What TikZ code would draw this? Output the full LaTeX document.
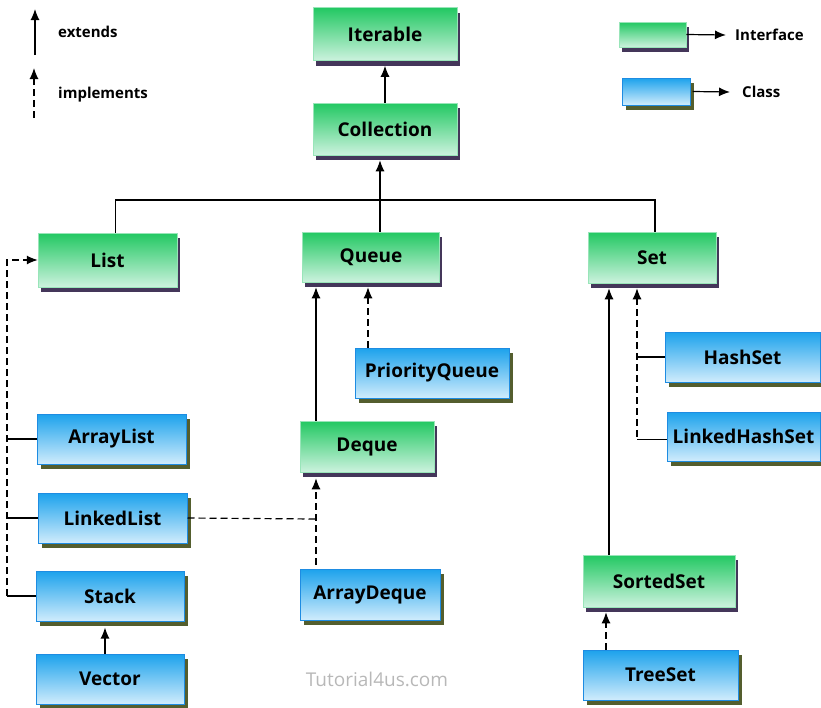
\documentclass[tikz,border=0pt]{standalone}
\usepackage{fontspec}
\setmainfont{Open Sans}
\usepackage{tikz}
\usetikzlibrary{positioning,shadows,arrows.meta}
\definecolor{ifgreen}{RGB}{34,200,98}
\definecolor{iflight}{RGB}{204,242,222}
\definecolor{ifshade}{RGB}{68,54,90}
\definecolor{clblue}{RGB}{28,162,236}
\definecolor{cllight}{RGB}{208,236,252}
\definecolor{clborder}{RGB}{30,140,226}
\definecolor{clshade}{RGB}{84,94,46}

\begin{document}
\begin{tikzpicture}[x=1pt,y=-1pt,
  box/.style={inner sep=0pt,font=\fontsize{19}{22}\selectfont\bfseries},
  iface/.style={box,top color=ifgreen,bottom color=iflight,draw=iflight!70!ifgreen,line width=0.5pt,
    drop shadow={shadow xshift=2.5pt,shadow yshift=-5pt,fill=ifshade,opacity=1}},
  klass/.style={box,top color=clblue,bottom color=cllight,draw=clborder,line width=1pt,
    drop shadow={shadow xshift=4pt,shadow yshift=-5pt,fill=clshade,opacity=1}},
  ext/.style={line width=1.2pt,-{Latex[length=11pt,width=9pt]}},
  impl/.style={ext,dash pattern=on 7pt off 4pt},
  legend/.style={font=\fontsize{15}{18}\selectfont\bfseries,anchor=west,inner sep=0pt}]
\useasboundingbox (0,0) rectangle (821,707);

% interfaces
\node[iface,minimum width=144pt,minimum height=53pt] (iterable) at (385,34) {Iterable};
\node[iface,minimum width=144pt,minimum height=52pt] (collection) at (385,129) {Collection};
\node[iface,minimum width=139pt,minimum height=54pt] (list) at (107.5,260) {List};
\node[iface,minimum width=137pt,minimum height=50pt] (queue) at (371,257) {Queue};
\node[iface,minimum width=128pt,minimum height=51pt] (set) at (652,257.5) {Set};
\node[iface,minimum width=134pt,minimum height=51pt] (deque) at (367,446.5) {Deque};
\node[iface,minimum width=152pt,minimum height=52pt] (sortedset) at (659,581) {SortedSet};

% classes
\node[klass,minimum width=154pt,minimum height=50pt] (priorityqueue) at (432,373) {PriorityQueue};
\node[klass,minimum width=149pt,minimum height=50pt] (arraylist) at (111.5,439) {ArrayList};
\node[klass,minimum width=149pt,minimum height=50pt] (linkedlist) at (112.5,518) {LinkedList};
\node[klass,minimum width=148pt,minimum height=50pt] (stack) at (110,596) {Stack};
\node[klass,minimum width=148pt,minimum height=50pt] (vector) at (110,679) {Vector};
\node[klass,minimum width=140pt,minimum height=51pt] (arraydeque) at (370,594.5) {ArrayDeque};
\node[klass,minimum width=155pt,minimum height=50pt] (hashset) at (742.5,357) {HashSet};
\node[klass,minimum width=153pt,minimum height=49pt] (linkedhashset) at (743.5,436.5) {LinkedHashSet};
\node[klass,minimum width=155pt,minimum height=50pt] (treeset) at (660.5,675) {TreeSet};

% legend
\coordinate (ext0) at (35,55);
\coordinate (ext1) at (35,9);
\coordinate (imp0) at (34,118);
\coordinate (imp1) at (34,68);
\draw[ext] (ext0) -- (ext1);
\draw[impl] (imp0) -- (imp1);
\node[legend] (extends) at (58,32) {extends};
\node[legend] (implements) at (58,95) {implements};
\node[iface,minimum width=67pt,minimum height=25pt] (keyiface) at (652.5,34.5) {};
\node[klass,minimum width=68pt,minimum height=27pt] (keyclass) at (656,91.5) {};
\node[legend] (ifacetext) at (735,35) {Interface};
\node[legend] (classtext) at (742,92) {Class};
\draw[ext] (keyiface.east) -- ([xshift=-9pt]ifacetext.west);
\draw[ext] ([xshift=2pt]keyclass.east) -- ([xshift=-12pt]classtext.west);

% rails
\coordinate (bus) at (380,200);
\coordinate (lrail) at (7,260);
\coordinate (drail) at (316,519);
\coordinate (srail) at (637,433);

\draw[ext,shorten >=5pt] (collection) -- (iterable);
\draw[line width=1.2pt] ([xshift=8pt]list.north) |- ([xshift=3pt]set.north |- bus) -- ([xshift=3pt]set.north);
\draw[ext,shorten >=5pt] (queue.north -| bus) -- (collection.south -| bus);

\draw[impl] (stack.west -| lrail) -- (lrail) -- (list.west);
\foreach \k in {arraylist,linkedlist,stack}
  \draw[line width=1.2pt] (\k.west) -- (\k.west -| lrail);
\draw[ext,shorten >=6pt] ([xshift=-5pt]vector.north) -- ([xshift=-5pt]stack.south);

\draw[ext,shorten >=5pt] (deque.north -| drail) -- (queue.south -| drail);
\draw[impl,shorten >=5pt] (priorityqueue.north -| 368,0) -- (queue.south -| 368,0);
\draw[impl,-] (linkedlist.east) -- (drail);
\draw[impl,shorten <=4pt,shorten >=6pt] (arraydeque.north -| drail) -- (deque.south -| drail);

\draw[impl,shorten >=5pt] (linkedhashset.west -| srail) -- (set.south -| srail);
\draw[line width=1.2pt] (hashset.west) -- (hashset.west -| srail);
\draw[line width=1.2pt] ([yshift=-3pt]linkedhashset.west) -- ([yshift=-3pt]linkedhashset.west -| srail);
\draw[ext,shorten >=5pt] (sortedset.north -| 609,0) -- (set.south -| 609,0);
\draw[impl,shorten >=5pt] (treeset.north -| 606,0) -- (sortedset.south -| 606,0);

\node[font=\fontsize{19}{22}\selectfont,text=black!28] (site) at (377,679) {Tutorial4us.com};
\end{tikzpicture}
\end{document}
